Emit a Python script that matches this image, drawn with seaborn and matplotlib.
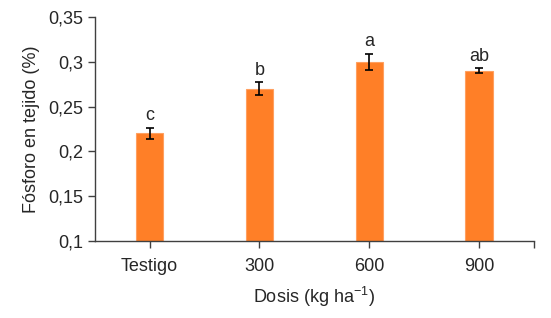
import numpy as np
import pandas as pd
import matplotlib
matplotlib.use("Agg")
import matplotlib.pyplot as plt
import seaborn as sns

dosis = ["Testigo", "300", "600", "900"]
fosforo = [0.22, 0.27, 0.30, 0.29]
error = [0.006, 0.007, 0.009, 0.0027]
letras = ["c", "b", "a", "ab"]

df = pd.DataFrame({"dosis": dosis, "fosforo": fosforo})

sns.set_style("white")
plt.rcParams["font.family"] = ["Liberation Sans", "DejaVu Sans"]
plt.rcParams["mathtext.fontset"] = "custom"
plt.rcParams["mathtext.rm"] = "Liberation Sans"

fig = plt.figure(figsize=(5.51, 3.18), dpi=100)
ax = fig.add_axes([0.172, 0.242, 0.797, 0.705])

sns.barplot(data=df, x="dosis", y="fosforo", color="#FF7F27", width=0.25,
            saturation=1, edgecolor="#FFA060", linewidth=0.8, ax=ax)
ax.errorbar(np.arange(len(dosis)), fosforo, yerr=error, fmt="none",
            ecolor="black", elinewidth=1.2, capsize=3, capthick=1.2)

for i, (v, e, l) in enumerate(zip(fosforo, error, letras)):
    ax.text(i, v + e + 0.004, l, ha="center", va="bottom", fontsize=13)

ax.set_ylim(0.1, 0.35)
ax.set_xlim(-0.5, 3.5)
yt = np.arange(0.1, 0.351, 0.05)
ax.set_yticks(yt)
ax.set_yticklabels([f"{t:.2f}".rstrip("0").replace(".", ",") for t in yt])
ax.set_xticks([3.5], minor=True)

sns.despine(ax=ax)
for s in ["left", "bottom"]:
    ax.spines[s].set_color("#404040")
    ax.spines[s].set_linewidth(1)
ax.tick_params(axis="both", which="both", direction="out", length=5,
               width=1, color="#404040", labelsize=13, bottom=True, left=True,
               pad=3)
ax.tick_params(axis="x", pad=7)

ax.set_ylabel("Fósforo en tejido (%)", fontsize=13, labelpad=6)
ax.set_xlabel("Dosis (kg ha$^{\\mathregular{-1}}$)", fontsize=13, labelpad=7)

fig.savefig("out.png", dpi=100)
